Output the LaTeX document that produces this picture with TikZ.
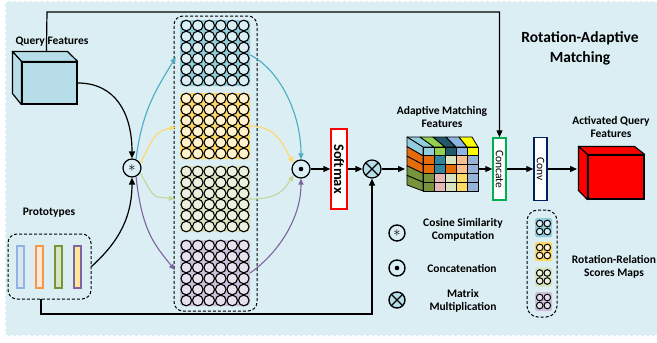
\documentclass[tikz,border=0pt]{standalone}
\usepackage{fontspec}
\setmainfont{Carlito}
\usetikzlibrary{arrows.meta,calc}
\definecolor{bgc}{HTML}{DAEEF3}
\definecolor{qcol}{HTML}{B7DEE8}
\definecolor{bb}{HTML}{92CDDC}\definecolor{bbc}{HTML}{DAEEF3}
\definecolor{by}{HTML}{FFD966}\definecolor{byc}{HTML}{FFF2CC}
\definecolor{bg}{HTML}{D7E4BD}\definecolor{bgcc}{HTML}{EBF1DE}
\definecolor{bp}{HTML}{CCC0DA}\definecolor{bpc}{HTML}{E6E0EC}
\definecolor{cblue}{HTML}{4BACC6}
\definecolor{cyel}{HTML}{FFD966}
\definecolor{cgrn}{HTML}{C3D69B}
\definecolor{cpur}{HTML}{8064A2}
\definecolor{cgreenbox}{HTML}{00B050}
\definecolor{cnavy}{HTML}{002060}
\definecolor{sb1}{HTML}{8DB4E2}\definecolor{sf1}{HTML}{DCE6F2}
\definecolor{sb2}{HTML}{F79646}\definecolor{sf2}{HTML}{FDE9D9}
\definecolor{sb3}{HTML}{77933C}\definecolor{sf3}{HTML}{D7E4BD}
\definecolor{sb4}{HTML}{8064A2}\definecolor{sf4}{HTML}{FFE699}
\begin{document}
\begin{tikzpicture}[x=1pt,y=-1pt,
  lab/.style={font=\bfseries\fontsize{11.5}{13.5}\selectfont, align=center, inner sep=0},
  arr/.style={line width=1.2pt, -{Triangle[length=7pt,width=6pt]}},
  carr/.style={line width=1.1pt, -{Triangle[length=6pt,width=5pt]}},
  op/.style={circle, draw, line width=1.2pt, minimum size=18pt, inner sep=0, fill=bgc},
  smallop/.style={op, minimum size=16pt, line width=1.4pt},
  ring/.style={draw, line width=1.1pt},
  blk/.style={minimum width=70pt, minimum height=66pt, inner sep=0, rounded corners=3pt},
  mblk/.style={minimum width=17pt, minimum height=19pt, inner sep=0, rounded corners=1.5pt},
  dbox/.style={draw, densely dashed, line width=1pt, rounded corners=9pt, inner sep=0},
  vbox/.style={draw, fill=white, line width=1.5pt, inner sep=0},
  bar/.style={line width=1.2pt, minimum width=7pt, minimum height=42pt, inner sep=0},
  astsym/.style={path picture={\node[text=black] at (path picture bounding box.center) {\fontsize{15}{15}\selectfont$\ast$};}},
  dotsym/.style={path picture={\fill[black] (path picture bounding box.center) circle[radius=2.3pt];}},
  mmsym/.style={fill=qcol, path picture={\draw[black, line width=1.2pt] (path picture bounding box.north west) -- (path picture bounding box.south east) (path picture bounding box.north east) -- (path picture bounding box.south west);}}
]
\useasboundingbox (0,0) rectangle (657,343);
\fill[bgc] (5,1) rectangle (664,336);
\draw[white, line width=2.5pt, dash pattern=on 3pt off 2.5pt] (5,1) rectangle (664,336);

% titles
\node[font=\bfseries\fontsize{15.5}{20}\selectfont, align=center] (title) at (580,48) {Rotation-Adaptive\\Matching};
\node[lab] (qlab) at (52,42) {Query Features};
\node[lab] (plab) at (49,213) {Prototypes};
\node[lab] (amlab) at (442,117) {Adaptive Matching\\Features};
\node[lab] (aqlab) at (611,127) {Activated Query\\Features};

% query cube
\node[draw, fill=qcol, line width=1.2pt, minimum width=55pt, minimum height=42pt, inner sep=0] (qf) at (49.5,83) {};
\draw[fill=qcol, line width=1.2pt, line join=round] (qf.north west) -- ++(-9,-10) -- ++(55,0) -- (qf.north east) -- cycle;
\draw[fill=qcol, line width=1.2pt, line join=round] (qf.north west) -- ++(-9,-10) -- ++(0,42) -- (qf.south west) -- cycle;
\coordinate (qtop) at ($(qf.north west)+(25,-10)$);

% prototypes
\node[dbox, minimum width=83pt, minimum height=65pt] (proto) at (49.5,266.5) {};
\node[bar, draw=sb1, fill=sf1] (p1) at (20.5,267) {};
\node[bar, draw=sb2, fill=sf2] (p2) at (39.5,267) {};
\node[bar, draw=sb3, fill=sf3] (p3) at (58.5,267) {};
\node[bar, draw=sb4, fill=sf4] (p4) at (77.5,267) {};
\coordinate (pb) at (41,299);

% operators
\node[op, astsym] (ast) at (132,168) {};
\node[op, dotsym] (dot) at (301,169) {};
\node[op, mmsym] (mm) at (372,169) {};

% grid of score maps
\node[dbox, minimum width=83pt, minimum height=295pt] (grid) at (215.5,163.5) {};
\node[blk, fill=bb] (gb) at (215,53) {};
\node[blk, fill=by] (gy) at (215,126) {};
\node[blk, fill=bg] (gg) at (215,199) {};
\node[blk, fill=bp] (gp) at (215,273) {};
\foreach \b/\c in {gb/bbc,gy/byc,gg/bgcc,gp/bpc}{
  \foreach \i in {0,...,5}{
    \foreach \j in {0,...,5}{
      \draw[ring, fill=\c] ($(\b)+(-28.75+11.5*\i,-27.5+11*\j)$) circle[radius=5.3pt];
    }
  }
}

% softmax, concate, conv
\node[vbox, draw=red, minimum width=16pt, minimum height=80pt] (sm) at (339,169) {};
\node[rotate=-90, font=\bfseries\fontsize{14.5}{14.5}\selectfont] (smt) at (sm) {Softmax};
\node[vbox, draw=cgreenbox, minimum width=13pt, minimum height=62pt] (concate) at (499.5,169) {};
\node[rotate=-90, font=\fontsize{11.5}{11.5}\selectfont] (cct) at (concate) {Concate};
\node[vbox, draw=cnavy, minimum width=13pt, minimum height=63pt] (conv) at (540.5,169) {};
\node[rotate=-90, font=\fontsize{11.5}{11.5}\selectfont] (cvt) at (conv) {Conv};

% adaptive matching cube
\foreach \c [count=\j from 0] in {93CDDD,92D050,215968,8DB4E2,FFFF00}{
  \definecolor{tmpc}{HTML}{\c}
  \draw[fill=tmpc, line width=0.8pt, line join=round] (423+11*\j,147) -- (434+11*\j,147) -- (420+13*\j,137) -- (407+13*\j,137) -- cycle;
}
\foreach \c [count=\i from 0] in {93CDDD,E46C0A,E46C0A,77933C,77933C}{
  \definecolor{tmpc}{HTML}{\c}
  \draw[fill=tmpc, line width=0.8pt, line join=round] (423,147+8.8*\i) -- (423,155.8+8.8*\i) -- (407,146.6+9.6*\i) -- (407,137+9.6*\i) -- cycle;
}
\node[draw, line width=0.8pt, minimum width=55pt, minimum height=44pt, inner sep=0] (amf) at (450.5,169) {};
\foreach \row [count=\i from 0] in {{93CDDD,92D050,215968,8DB4E2,FFFF00},{E46C0A,31859C,D7E4BD,FAC090,95B3D7},{E46C0A,31859C,E46C0A,FAC090,95B3D7},{77933C,E6B9B8,D7E4BD,FFD966,95B3D7},{77933C,E6B9B8,D7E4BD,FFD966,95B3D7}}{
  \foreach \c [count=\j from 0] in \row {
    \definecolor{tmpc}{HTML}{\c}
    \draw[fill=tmpc, line width=0.8pt] (423+11*\j,147+8.8*\i) rectangle (434+11*\j,155.8+8.8*\i);
  }
}
\coordinate (aml) at (405,169);

% red cube
\node[draw, fill=red, line width=1.2pt, minimum width=56pt, minimum height=44pt, inner sep=0] (rf) at (616,177) {};
\draw[fill=red, line width=1.2pt, line join=round] (rf.north west) -- ++(-9,-8) -- ++(56,0) -- (rf.north east) -- cycle;
\draw[fill=red, line width=1.2pt, line join=round] (rf.north west) -- ++(-9,-8) -- ++(0,44) -- (rf.south west) -- cycle;
\coordinate (rl) at (577,169);

% black connectors
\draw[arr] (qtop) -- (47,12) -| (concate.north);
\draw[arr] (qf.east) .. controls +(38,0) and +(0,-45) .. (ast.north);
\draw[arr] (proto.east) .. controls +(22,-20) and +(0,45) .. (ast.south);
\draw[arr] (pb) -- (41,314) -| (mm.south);
\draw[arr] (dot) -- (sm);
\draw[arr] (sm) -- (mm);
\draw[arr] (mm) -- (aml);
\draw[arr] (amf) -- (concate);
\draw[arr] (concate) -- (conv);
\draw[arr] (conv) -- (rl);

% coloured connectors
\draw[carr, cblue] (ast.65) .. controls +(6,-50) and +(-18,30) .. ($(gb.west)+(-4,4)$);
\draw[carr, cyel] (ast.30) .. controls +(15,-28) and +(-22,5) .. ($(gy.west)+(-4,1)$);
\draw[carr, cgrn] (ast.-30) .. controls +(15,28) and +(-22,-3) .. ($(gg.west)+(-5,0)$);
\draw[carr, cpur] (ast.-65) .. controls +(6,55) and +(-20,-25) .. ($(gp.west)+(-5,-3)$);
\draw[carr, cblue] ($(gb.east)+(0,2)$) .. controls +(30,15) and +(0,-45) .. (dot.north);
\draw[carr, cyel] (gy.east) .. controls +(28,0) and +(-10,-15) .. (dot.140);
\draw[carr, cgrn] (gg.east) .. controls +(28,0) and +(-10,15) .. (dot.220);
\draw[carr, cpur] (gp.east) .. controls +(28,-20) and +(0,40) .. (dot.south);

% legend
\node[smallop, astsym] (last) at (397,233) {};
\node[smallop, dotsym] (ldot) at (397,268) {};
\node[smallop, mmsym] (lmm) at (397,300) {};
\node[lab] (lt1) at (463,230) {Cosine Similarity\\Computation};
\node[lab] (lt2) at (462,268) {Concatenation};
\node[lab] (lt3) at (463,301) {Matrix\\Multiplication};
\node[dbox, rounded corners=11pt, minimum width=30pt, minimum height=107pt] (lgrid) at (542,263.5) {};
\node[mblk, fill=bb] (mb) at (543.5,227.5) {};
\node[mblk, fill=by] (my) at (543.5,251.5) {};
\node[mblk, fill=bg] (mg) at (543.5,277) {};
\node[mblk, fill=bp] (mp) at (543.5,301.5) {};
\foreach \b/\c in {mb/bbc,my/byc,mg/bgcc,mp/bpc}{
  \foreach \i in {0,1}{
    \foreach \j in {0,1}{
      \draw[line width=1pt, fill=\c] ($(\b)+(-3.8+7.6*\i,-4+8*\j)$) circle[radius=3.3pt];
    }
  }
}
\node[lab] (lt4) at (614,267) {Rotation-Relation\\Scores Maps};
\end{tikzpicture}
\end{document}
